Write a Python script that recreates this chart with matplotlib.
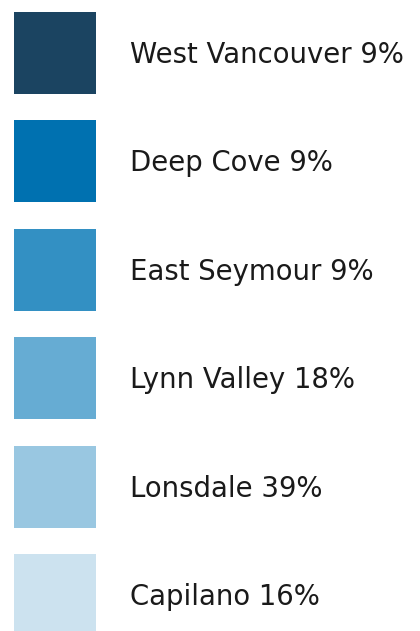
import matplotlib.pyplot as plt
from matplotlib.patches import Rectangle

areas = ["West Vancouver", "Deep Cove", "East Seymour", "Lynn Valley", "Lonsdale", "Capilano"]
shares = [9, 9, 9, 18, 39, 16]
colors = ["#1b4461", "#0071b0", "#3390c3", "#66acd3", "#99c7e1", "#cce2ef"]

W, H = 420, 631
fig = plt.figure(figsize=(W / 100, H / 100), dpi=100)
ax = fig.add_axes([0, 0, 1, 1])
ax.set_xlim(0, W)
ax.set_ylim(H, 0)
ax.axis("off")

step = 108.4
for i, (name, pct, c) in enumerate(zip(areas, shares, colors)):
    top = 12 + i * step
    ax.add_patch(Rectangle((14, top), 82, 82, facecolor=c, edgecolor="none"))
    ax.text(130, top + 43, f"{name} {pct}%", fontsize=19.8, family="DejaVu Sans",
            color="#1a1a1a", va="center", ha="left")

fig.savefig("out.png", dpi=100)
